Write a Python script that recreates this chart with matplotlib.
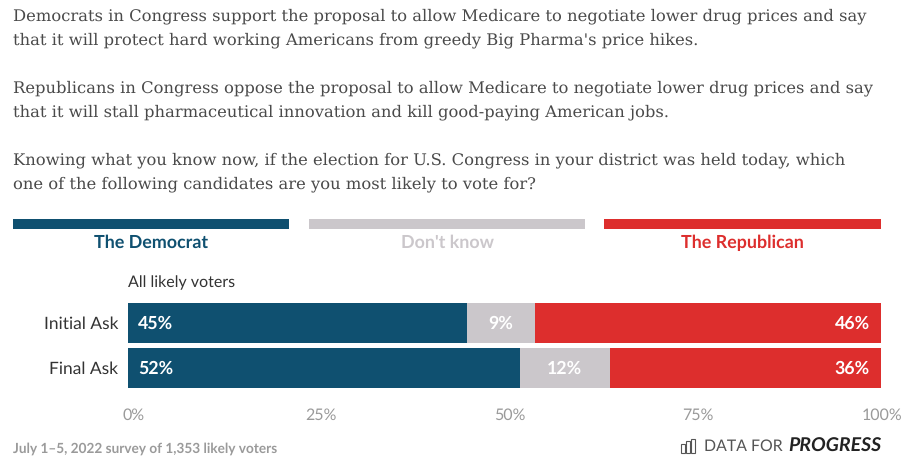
import matplotlib
matplotlib.use('Agg')
import matplotlib.pyplot as plt
from matplotlib.patches import Rectangle
from matplotlib.transforms import ScaledTranslation

plt.rcParams['text.hinting'] = 'no_hinting'

# Dados
grupos = ['Initial Ask', 'Final Ask']
democrata = [45, 52]
nao_sabe = [9, 12]
republicano = [46, 36]
legendas = ['The Democrat', "Don't know", 'The Republican']
ticks = [0, 25, 50, 75, 100]
ticks_labels = ['0%', '25%', '50%', '75%', '100%']
pergunta = [
    "Democrats in Congress support the proposal to allow Medicare to negotiate lower drug prices and say",
    "that it will protect hard working Americans from greedy Big Pharma's price hikes.",
    "Republicans in Congress oppose the proposal to allow Medicare to negotiate lower drug prices and say",
    "that it will stall pharmaceutical innovation and kill good-paying American jobs.",
    "Knowing what you know now, if the election for U.S. Congress in your district was held today, which",
    "one of the following candidates are you most likely to vote for?",
]
pergunta_y = [16, 40, 88, 112, 160, 184]

AZUL = '#0f5070'
CINZA = '#cbc7cb'
VERMELHO = '#dd2e2d'
LARG, ALT = 917, 471
SANS = 'Lato'


def px(x, y):
    return x / LARG, 1 - y / ALT


def texto(x, y, s, **kw):
    fx, fy = px(x, y)
    return fig.text(fx, fy, s, va='center', **kw)


fig = plt.figure(figsize=(LARG / 100, ALT / 100), dpi=100, facecolor='white')

# Texto da pergunta
for s, y in zip(pergunta, pergunta_y):
    texto(13, y, s, family='DejaVu Serif', fontsize=11.75, color='#4a4a4a')

# Legenda no topo
for (x0, x1), cor, nome in zip([(13, 289), (309, 585), (604, 881)],
                               [AZUL, CINZA, VERMELHO], legendas):
    fx, fy = px(x0, 229)
    fig.add_artist(Rectangle((fx, fy), (x1 - x0) / LARG, 10 / ALT,
                             transform=fig.transFigure, color=cor, lw=0))
    texto((x0 + x1) / 2, 243, nome, family=SANS, fontsize=12.9, fontweight='bold',
          color=cor, ha='center')

# Barras
ax = fig.add_axes([128 / LARG, 1 - 390.5 / ALT, 753 / LARG, 90 / ALT])
y = list(range(len(grupos)))
esq_rep = [d + n for d, n in zip(democrata, nao_sabe)]
ax.barh(y, democrata, height=0.89, color=AZUL)
ax.barh(y, nao_sabe, left=democrata, height=0.89, color=CINZA)
ax.barh(y, republicano, left=esq_rep, height=0.89, color=VERMELHO)
ax.set_xlim(0, 100)
ax.set_ylim(1.5, -0.5)
ax.set_yticks(y)
ax.set_yticklabels(grupos, family=SANS, fontsize=12.5, color='#333333')
ax.set_xticks(ticks)
ax.set_xticklabels(ticks_labels, family=SANS, fontsize=11.5, color='#9a9a9a')
ax.tick_params(axis='both', length=0)
ax.tick_params(axis='y', pad=7)
ax.tick_params(axis='x', pad=13)
for lado in ax.spines.values():
    lado.set_visible(False)

# Os rótulos do eixo x não ficam centrados na marca
for lab, dx in zip(ax.get_xticklabels(), [6, 5, 5, 5, 1]):
    lab.set_transform(lab.get_transform() + ScaledTranslation(dx / 100, 0, fig.dpi_scale_trans))

# Valores dentro das barras
for i in y:
    ax.annotate(f'{democrata[i]}%', (0, i), xytext=(10, -1), textcoords='offset pixels',
                va='center', ha='left', family=SANS, fontsize=12.8, fontweight='bold', color='white')
    ax.annotate(f'{nao_sabe[i]}%', (democrata[i] + nao_sabe[i] / 2, i), xytext=(0, -1),
                textcoords='offset pixels', va='center', ha='center',
                family=SANS, fontsize=12.8, fontweight='bold', color='white')
    ax.annotate(f'{republicano[i]}%', (100, i), xytext=(-11, -1), textcoords='offset pixels',
                va='center', ha='right', family=SANS, fontsize=12.8, fontweight='bold', color='white')

texto(128, 283, 'All likely voters', family=SANS, fontsize=11.5, color='#333333')
texto(13, 449, 'July 1–5, 2022 survey of 1,353 likely voters', family=SANS, fontsize=9.8,
      fontweight='bold', color='#9a9a9a')

# Logo
texto(704, 446, 'DATA FOR', family=SANS, fontsize=11.4, color='#555555')
texto(881, 446, 'PROGRESS', family=SANS, fontsize=14, fontweight='bold', style='italic',
      color='#222222', ha='right')
for x0, topo in [(681, 444), (686, 441), (691, 439)]:
    fx, fy = px(x0, 453)
    fig.add_artist(Rectangle((fx, fy), 4 / LARG, (453 - topo) / ALT, transform=fig.transFigure,
                             fill=False, ec='#555555', lw=0.8))

fig.savefig('out.png', dpi=100)
